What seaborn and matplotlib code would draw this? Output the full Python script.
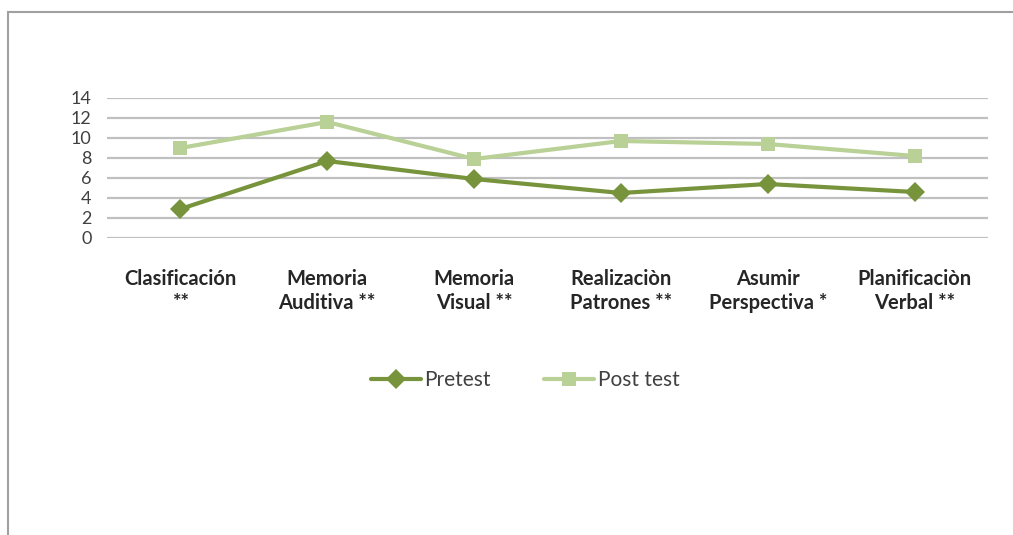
import pandas as pd
import numpy as np
import matplotlib.pyplot as plt
import seaborn as sns
from matplotlib.patches import Rectangle

categorias = ['Clasificación\n**', 'Memoria\nAuditiva **', 'Memoria\nVisual **',
              'Realizaciòn\nPatrones **', 'Asumir\nPerspectiva *', 'Planificaciòn\nVerbal **']
pretest = [2.9, 7.7, 5.9, 4.5, 5.4, 4.6]
post_test = [9.0, 11.6, 7.9, 9.7, 9.4, 8.2]
series = ['Pretest', 'Post test']
y_ticks = [0, 2, 4, 6, 8, 10, 12, 14]

df = pd.DataFrame({
    'categoria': categorias * 2,
    'valor': pretest + post_test,
    'serie': ['Pretest'] * len(categorias) + ['Post test'] * len(categorias),
})

sns.set_theme(style='white')
plt.rcParams['font.family'] = ['Lato', 'DejaVu Sans']

fig = plt.figure(figsize=(10.13, 5.35), dpi=100)
ax = fig.add_axes([107 / 1013, 1 - 238 / 535, 881 / 1013, 140 / 535])

colores = {'Pretest': '#77933C', 'Post test': '#B9D096'}
sns.lineplot(data=df, x='categoria', y='valor', hue='serie', style='serie',
             hue_order=series, style_order=series, palette=colores,
             markers={'Pretest': 'D', 'Post test': 's'}, dashes=False,
             sort=False, linewidth=3, markersize=10.5, markeredgewidth=0,
             ax=ax, legend=True)

ax.set_xlim(-0.5, len(categorias) - 0.5)
ax.set_ylim(0, 14)
ax.set_yticks(y_ticks)
ax.yaxis.grid(True, color='#C0C0C0', linewidth=1.6)
ax.set_axisbelow(True)
for s in ax.spines.values():
    s.set_visible(False)
ax.set_xlabel('')
ax.set_ylabel('')
ax.tick_params(axis='y', labelsize=13, labelcolor='#404040', pad=11, length=0)
ax.tick_params(axis='x', labelsize=14.5, labelcolor='#262626', pad=22, length=0)
for lab in ax.get_xticklabels():
    lab.set_fontweight('bold')
    lab.set_linespacing(1.3)

leg = ax.legend(handles=ax.get_legend().legend_handles, labels=series,
                loc='center', bbox_to_anchor=(525 / 1013, 1 - 380 / 535),
                bbox_transform=fig.transFigure, ncol=2, frameon=False,
                fontsize=15, handlelength=2.4, columnspacing=2.6, handletextpad=0.15)
for t in leg.get_texts():
    t.set_color('#404040')

fig.patches.append(Rectangle((8 / 1013, -0.1), 1.2, 1 - 12 / 535 + 0.1,
                             transform=fig.transFigure, fill=False,
                             edgecolor='#A0A0A0', linewidth=1.5))

fig.savefig('out.png', dpi=100)
